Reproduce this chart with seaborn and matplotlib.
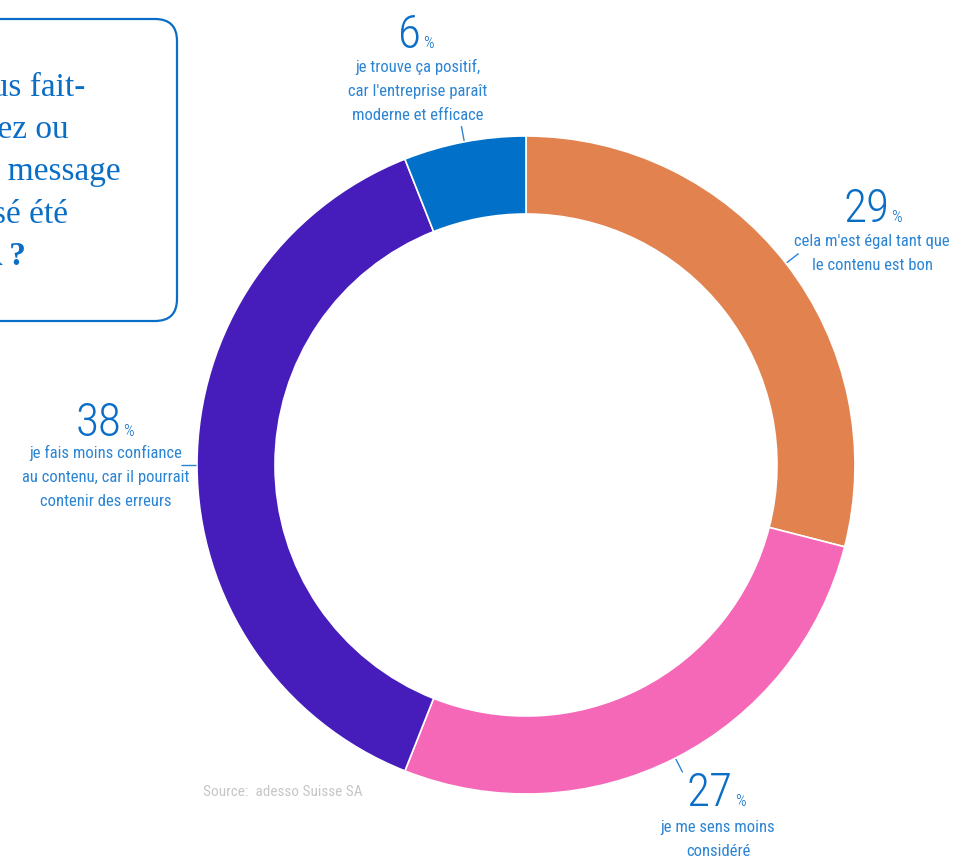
import matplotlib
matplotlib.use("Agg")
import matplotlib.pyplot as plt
from matplotlib import font_manager as fm
from matplotlib.patches import FancyBboxPatch
import numpy as np
import seaborn as sns

# ---- data -------------------------------------------------------------
shares = [29, 27, 38, 6]
answers = [
    ["cela m'est égal tant que", "le contenu est bon"],
    ["je me sens moins", "considéré"],
    ["je fais moins confiance", "au contenu, car il pourrait", "contenir des erreurs"],
    ["je trouve ça positif,", "car l'entreprise paraît", "moderne et efficace"],
]
slice_colors = ["#E2834F", "#F568B8", "#461DBA", "#0070C8"]
question_lines = ["Cela vous fait-", "si vous savez ou", "un message", "sé été", "l'IA ?"]
source_note = "Source:  adesso Suisse SA"

# ---- layout (pixels, origin top-left) ---------------------------------
W, H = 976, 859
CX, CY, R_OUT, RING = 526, 465, 329, 78
# per slice: end x of the big number, number baseline, text centre x, first text baseline
label_layout = [
    (888, 222, 872, 246),
    (732, 806, 718, 832),
    (120, 436, 106, 458),
    (420, 48, 418, 72),
]
line_step = 24
question_layout = [(85, 96), (69, 138), (121, 180), (68, 223), (26, 265)]

BLUE = "#0A6EC6"
LABEL_BLUE = "#2B84D4"

sns.set_theme(style="white")
names = {f.name for f in fm.fontManager.ttflist}
cond_family = next((n for n in ["Roboto Condensed", "Liberation Sans Narrow",
                                "Open Sans Condensed", "DejaVu Sans"] if n in names), "DejaVu Sans")
serif_family = "Liberation Serif" if "Liberation Serif" in names else "DejaVu Serif"
plt.rcParams["font.family"] = [cond_family, "DejaVu Sans"]


def Y(py):
    return H - py


fig = plt.figure(figsize=(W / 100, H / 100), dpi=100)
ax = fig.add_axes([0, 0, 1, 1])

wedges, _ = ax.pie(
    shares,
    colors=slice_colors,
    startangle=90,
    counterclock=False,
    radius=R_OUT,
    center=(CX, Y(CY)),
    wedgeprops=dict(width=RING, edgecolor="white", linewidth=1.2),
)
ax.set_xlim(0, W)
ax.set_ylim(0, H)
ax.set_aspect("equal")
ax.axis("off")

# leader lines at the middle of each slice
cum = np.cumsum([0] + shares)
total = float(sum(shares))
for i, w in enumerate(wedges):
    mid = (cum[i] + cum[i + 1]) / 2 / total * 2 * np.pi
    dx, dy = np.sin(mid), np.cos(mid)
    ax.plot([CX + dx * (R_OUT + 1), CX + dx * (R_OUT + 16)],
            [Y(CY) + dy * (R_OUT + 1), Y(CY) + dy * (R_OUT + 16)],
            color=LABEL_BLUE, lw=1.0, solid_capstyle="butt")

# slice labels
for val, lines, (nx, ny, tx, ty) in zip(shares, answers, label_layout):
    ax.text(nx + 1, Y(ny), f"{val}", ha="right", va="baseline", fontsize=34,
            fontweight="light", color=BLUE)
    ax.text(nx + 3, Y(ny), "%", ha="left", va="baseline", fontsize=12,
            fontweight="light", color=BLUE)
    for k, line in enumerate(lines):
        ax.text(tx, Y(ty + k * line_step), line, ha="center", va="baseline",
                fontsize=12, color=LABEL_BLUE)

# source
ax.text(203, Y(796), source_note, ha="left", va="baseline", fontsize=11,
        color="#c6c6c6")

# question box on the left
box = FancyBboxPatch((-60, Y(321)), 237, 302,
                     boxstyle="round,pad=0,rounding_size=22",
                     fc="white", ec=BLUE, lw=1.6)
ax.add_patch(box)
for k, (line, (rx, by)) in enumerate(zip(question_lines, question_layout)):
    ax.text(rx, Y(by), line, ha="right", va="baseline", fontsize=24,
            family=serif_family, color=BLUE,
            fontweight="bold" if k == len(question_lines) - 1 else "normal")

fig.savefig("out.png", dpi=100)
